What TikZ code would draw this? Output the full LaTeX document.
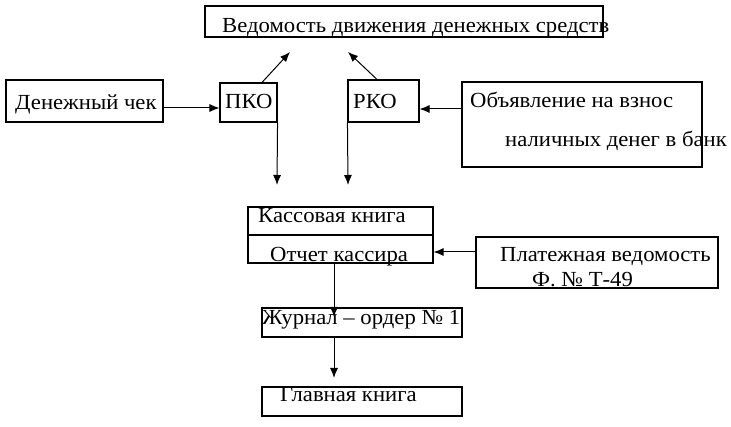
\documentclass[tikz,border=0pt]{standalone}
\usepackage{fontspec}
\setmainfont[FakeStretch=1.055]{Liberation Serif}
\usetikzlibrary{arrows.meta}
\begin{document}
\begin{tikzpicture}[
        x=1pt, y=-1pt,
        box/.style={draw, line width=1.1pt, inner sep=0pt},
        txt/.style={anchor=base west, inner sep=0pt, font=\fontsize{21.5}{25}\selectfont},
        arrow/.style={-{Latex[length=10pt,width=8pt]}, line width=1pt}
    ]
    \useasboundingbox (0,0) rectangle (731,427);

    % Блоки схемы
    \node[box, minimum width=398pt, minimum height=31pt] (ved) at (404,21.5) {};
    \node[box, minimum width=157pt, minimum height=42pt] (chek) at (84.5,101) {};
    \node[box, minimum width=57pt, minimum height=39pt] (pko) at (248.5,102.5) {};
    \node[box, minimum width=71pt, minimum height=42pt] (rko) at (383.5,101) {};
    \node[box, minimum width=240pt, minimum height=85pt] (obyav) at (582,124.5) {};
    \node[box, minimum width=185pt, minimum height=28pt] (kassa) at (340.5,221) {};
    \node[box, minimum width=185pt, minimum height=28pt] (otchet) at (340.5,249) {};
    \node[box, minimum width=242pt, minimum height=51pt] (plat) at (597,262.5) {};
    \node[box, minimum width=200pt, minimum height=29pt] (zhurn) at (362,322.5) {};
    \node[box, minimum width=200pt, minimum height=29pt] (glav) at (362,401.5) {};

    % Надписи
    \node[txt] (vedT) at (222,33) {Ведомость движения денежных средств};
    \node[txt] (chekT) at (15,110) {Денежный чек};
    \node[txt] (pkoT) at (225,109) {ПКО};
    \node[txt] (rkoT) at (353,109) {РКО};
    \node[txt] (obyavA) at (470,108) {Объявление на взнос};
    \node[txt] (obyavB) at (505,147) {наличных денег в банк};
    \node[txt] (kassaT) at (258,223) {Кассовая книга};
    \node[txt] (otchetT) at (270,262) {Отчет кассира};
    \node[txt] (platA) at (500,262) {Платежная ведомость};
    \node[txt] (platB) at (532,287) {Ф. № Т-49};
    \node[txt] (zhurnT) at (262,325) {Журнал – ордер № 1};
    \node[txt] (glavT) at (280,402) {Главная книга};

    % Свободные концы стрелок
    \coordinate (vedL) at (290,52);
    \coordinate (vedR) at (348,52);
    \coordinate (pkoD) at (277,185);
    \coordinate (rkoD) at (348,185);
    \coordinate (zhurnIn) at (334,317);
    \coordinate (glavIn) at (334,378);

    % Стрелки
    \draw[arrow] ([yshift=-7pt]chek.east) -- ([yshift=-5.5pt]pko.west);
    \draw[arrow] ([xshift=13.5pt]pko.north) -- (vedL);
    \draw[arrow] ([xshift=-6.5pt]rko.north) -- (vedR);
    \draw[arrow] (pko.south east) -- (pkoD);
    \draw[arrow] (rko.south west) -- (rkoD);
    \draw[arrow] ([yshift=15.5pt]obyav.west) -- ([yshift=-8pt]rko.east);
    \draw[arrow] ([yshift=10.5pt]plat.west) -- ([yshift=-3pt]otchet.east);
    \draw[arrow] ([xshift=-6.5pt]otchet.south) -- (zhurnIn);
    \draw[arrow] ([xshift=-28pt]zhurn.south) -- (glavIn);

\end{tikzpicture}
\end{document}
